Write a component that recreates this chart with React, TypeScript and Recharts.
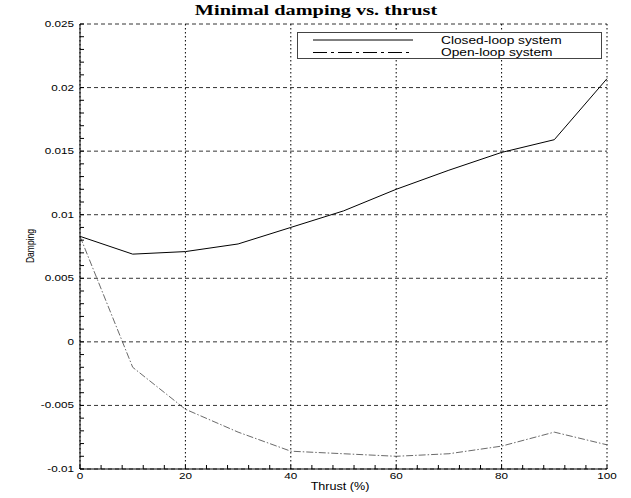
import React from 'react';
import { LineChart, Line, XAxis, YAxis, CartesianGrid, Legend, Customized } from 'recharts';

const thrust = [0, 10, 20, 30, 40, 50, 60, 70, 80, 90, 100];
const closedLoop = [0.0083, 0.0069, 0.0071, 0.0077, 0.009, 0.0103, 0.012, 0.0135, 0.0149, 0.0159, 0.0207];
const openLoop = [0.0083, -0.002, -0.0053, -0.0071, -0.0086, -0.0088, -0.009, -0.0088, -0.0082, -0.0071, -0.0081];

const seriesNames = ['Closed-loop system', 'Open-loop system'];

const xTicks = [0, 20, 40, 60, 80, 100];
const yTicks = [-0.01, -0.005, 0, 0.005, 0.01, 0.015, 0.02, 0.025];
// minor tick marks: every 4 on x, every 0.001 on y
const xMinorTicks = Array.from({ length: 26 }, (_, i) => i * 4);
const yMinorTicks = Array.from({ length: 36 }, (_, i) => Math.round((-0.01 + i * 0.001) * 1e6) / 1e6);

const title = 'Minimal damping vs. thrust';
const xLabel = 'Thrust (%)';
const yLabel = 'Damping';

const data = thrust.map((t, i) => ({ thrust: t, closed: closedLoop[i], open: openLoop[i] }));

const SANS = '"Liberation Sans", Arial, Helvetica, sans-serif';
const SERIF = '"Liberation Serif", "Times New Roman", serif';
const OPEN_DASH = '7 2 1.5 2';
const TICK = 4;

const isMajor = (list: number[], v: number) => list.some((t) => Math.abs(t - v) < 1e-9);

// tick marks point into the plot, labels sit outside
const BottomTick = (props: any) => {
  const { x, y, payload } = props;
  return (
    <g>
      <line x1={x} x2={x} y1={y} y2={y - TICK} stroke="#000" />
      {isMajor(xTicks, payload.value) && (
        <text transform={`translate(${x},${y + 10}) scale(1.3,1)`} textAnchor="middle" fontSize={9} fontFamily={SANS} fill="#000">
          {payload.value}
        </text>
      )}
    </g>
  );
};

const TopTick = (props: any) => {
  const { x, y } = props;
  return <line x1={x} x2={x} y1={y} y2={y + TICK} stroke="#000" />;
};

const LeftTick = (props: any) => {
  const { x, y, payload } = props;
  return (
    <g>
      <line x1={x} x2={x + TICK} y1={y} y2={y} stroke="#000" />
      {isMajor(yTicks, payload.value) && (
        <text transform={`translate(${x - 6},${y + 3}) scale(1.3,1)`} textAnchor="end" fontSize={9} fontFamily={SANS} fill="#000">
          {String(payload.value)}
        </text>
      )}
    </g>
  );
};

const RightTick = (props: any) => {
  const { x, y } = props;
  return <line x1={x} x2={x - TICK} y1={y} y2={y} stroke="#000" />;
};

const renderLegend = (props: any) => {
  const items = props.payload || [];
  return (
    <svg width={306} height={28} style={{ display: 'block' }}>
      <rect x={0.5} y={0.5} width={304} height={26} fill="#fff" stroke="#444" />
      {items.map((entry: any, i: number) => (
        <g key={entry.value}>
          <line
            x1={16}
            x2={116}
            y1={8 + i * 12.5}
            y2={8 + i * 12.5}
            stroke="#000"
            strokeWidth={1}
            strokeDasharray={i === 1 ? '14 4 3 4' : undefined}
          />
          <text
            transform={`translate(144,${12 + i * 12}) scale(1.25,1)`}
            fontSize={11}
            fontFamily={SANS}
            fill="#000"
          >
            {entry.value}
          </text>
        </g>
      ))}
    </svg>
  );
};

const Texts = () => (
  <g>
    <text transform="translate(316,15) scale(1.45,1)" textAnchor="middle" fontSize={14} fontWeight="bold" fontFamily={SERIF} fill="#000">
      {title}
    </text>
    <text transform="translate(340,490) scale(1.26,1)" textAnchor="middle" fontSize={10} fontFamily={SANS} fill="#000">
      {xLabel}
    </text>
    <text transform="translate(34,246) rotate(-90) scale(0.95,1.3)" textAnchor="middle" fontSize={9} fontFamily={SANS} fill="#000">
      {yLabel}
    </text>
  </g>
);

const App: React.FC = () => {
  return (
    <div style={{ position: 'absolute', left: 0, top: 0, width: 631, height: 498, background: '#fff' }}>
      <LineChart width={631} height={498} data={data} margin={{ top: 24, right: 24, left: 0, bottom: 0 }}>
        <CartesianGrid xAxisId="main" yAxisId="main" vertical={false} horizontalValues={yTicks} stroke="#000" strokeWidth={0.8} strokeDasharray="4 3" />
        <CartesianGrid xAxisId="main" yAxisId="main" horizontal={false} verticalValues={xTicks} stroke="#000" strokeWidth={1} strokeDasharray="1.5 2.5" />

        <XAxis
          xAxisId="main"
          dataKey="thrust"
          type="number"
          domain={[0, 100]}
          ticks={xMinorTicks}
          interval={0}
          height={29}
          tickSize={0}
          tickMargin={0}
          tickLine={false}
          tick={<BottomTick />}
          axisLine={{ stroke: '#000' }}
        />
        <XAxis
          xAxisId="top"
          orientation="top"
          type="number"
          dataKey="thrust"
          domain={[0, 100]}
          ticks={xMinorTicks}
          interval={0}
          height={0}
          tickSize={0}
          tickMargin={0}
          tickLine={false}
          tick={<TopTick />}
          axisLine={{ stroke: '#000' }}
        />

        <YAxis
          yAxisId="main"
          type="number"
          domain={[-0.01, 0.025]}
          ticks={yMinorTicks}
          interval={0}
          width={80}
          tickSize={0}
          tickMargin={0}
          tickLine={false}
          tick={<LeftTick />}
          axisLine={{ stroke: '#000' }}
          allowDataOverflow
        />
        <YAxis
          yAxisId="right"
          orientation="right"
          type="number"
          domain={[-0.01, 0.025]}
          ticks={yMinorTicks}
          interval={0}
          width={0}
          tickSize={0}
          tickMargin={0}
          tickLine={false}
          tick={<RightTick />}
          axisLine={{ stroke: '#000' }}
        />

        <Line
          xAxisId="main"
          yAxisId="main"
          name={seriesNames[0]}
          dataKey="closed"
          type="linear"
          stroke="#000"
          strokeWidth={1}
          dot={false}
          isAnimationActive={false}
        />
        <Line
          xAxisId="main"
          yAxisId="main"
          name={seriesNames[1]}
          dataKey="open"
          type="linear"
          stroke="#444"
          strokeWidth={0.8}
          strokeDasharray={OPEN_DASH}
          dot={false}
          isAnimationActive={false}
        />

        <Legend
          layout="vertical"
          align="center"
          verticalAlign="middle"
          content={renderLegend}
          wrapperStyle={{ position: 'absolute', left: 297, top: 32, width: 306, height: 28 }}
        />
        <Customized component={<Texts />} />
      </LineChart>
    </div>
  );
};

export default App;
